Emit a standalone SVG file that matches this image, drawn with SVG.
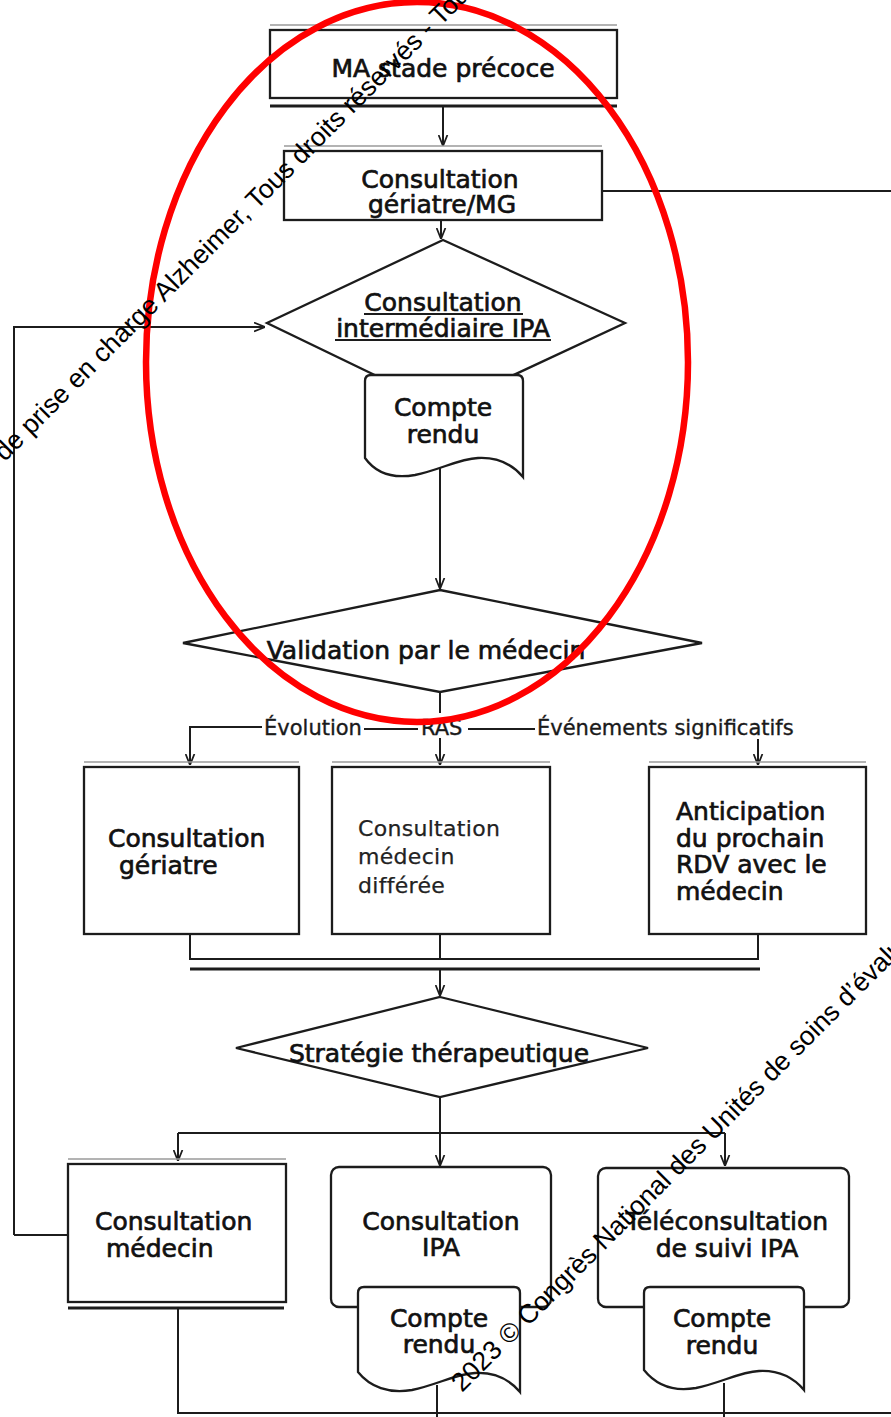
<svg xmlns="http://www.w3.org/2000/svg" width="891" height="1417" viewBox="0 0 891 1417">
<style>
.box{fill:#fff;stroke:#1c1c1c;stroke-width:2.3}
.ln{fill:none;stroke:#1c1c1c;stroke-width:2}
.gr{fill:none;stroke:#9a9a9a;stroke-width:1.5}
.thick{fill:none;stroke:#1c1c1c;stroke-width:3}
.t{font-family:"DejaVu Sans","Liberation Sans",sans-serif;font-size:25px;fill:#111;stroke:#111;stroke-width:0.7;text-anchor:middle}
.s{text-anchor:start}
.lt{font-family:"DejaVu Sans","Liberation Sans",sans-serif;font-size:22px;fill:#222;stroke:#222;stroke-width:0.25;letter-spacing:0.3px}
.lb{font-family:"DejaVu Sans","Liberation Sans",sans-serif;font-size:21px;fill:#1a1a1a;stroke:#1a1a1a;stroke-width:0.35}
.wm{font-family:"Liberation Sans",Arial,sans-serif;font-size:26.5px;fill:#000}
</style>
<defs>
<marker id="arr" viewBox="0 0 10 10" refX="10" refY="5" markerWidth="11" markerHeight="11" markerUnits="userSpaceOnUse" orient="auto">
<path d="M0,1 L10,5 L0,9" fill="none" stroke="#1c1c1c" stroke-width="1.6"/>
</marker>
</defs>
<rect width="891" height="1417" fill="#fff"/>

<g id="connectors">
<path class="ln" d="M443,106 V146" marker-end="url(#arr)"/>
<path class="ln" d="M602,191 H891"/>
<path class="ln" d="M441,220 V239" marker-end="url(#arr)"/>
<path class="ln" d="M14,1235 V327 H265" marker-end="url(#arr)"/>
<path class="ln" d="M14,1235 H68"/>
<path class="ln" d="M440,467 V589" marker-end="url(#arr)"/>
<path class="ln" d="M440,692 V713"/>
<path class="ln" d="M262,727 H190 V765" marker-end="url(#arr)"/>
<path class="ln" d="M364,729 H418"/>
<path class="ln" d="M468,729 H535"/>
<path class="ln" d="M440,738 V765" marker-end="url(#arr)"/>
<path class="ln" d="M758,739 V765" marker-end="url(#arr)"/>
<path class="ln" d="M190,934 V959 H758 V934"/>
<path class="ln" d="M440,934 V959"/>
<path class="thick" d="M190,969 H760"/>
<path class="ln" d="M440,969 V996" marker-end="url(#arr)"/>
<path class="ln" d="M440,1097 V1133"/>
<path class="ln" d="M178,1133 H725"/>
<path class="ln" d="M178,1133 V1161" marker-end="url(#arr)"/>
<path class="ln" d="M440,1133 V1166" marker-end="url(#arr)"/>
<path class="ln" d="M725,1133 V1166" marker-end="url(#arr)"/>
<path class="ln" d="M178,1308 V1413 H891"/>
<path class="ln" d="M437,1385 V1417"/>
<path class="ln" d="M724,1383 V1417"/>
</g>

<g id="n1">
<path class="gr" d="M270,25 H617"/>
<rect class="box" x="270" y="30" width="347" height="68"/>
<path class="thick" d="M270,106 H617"/>
<text class="t" x="443" y="77">MA stade précoce</text>
</g>

<g id="n2">
<path class="gr" d="M284,146 H602"/>
<rect class="box" x="284" y="151" width="318" height="69"/>
<text class="t" x="440" y="188">Consultation</text>
<text class="t" x="442" y="213">gériatre/MG</text>
</g>

<g id="d1">
<polygon class="box" points="443,240 625,323 443,408 267,323"/>
<text class="t" x="443" y="311">Consultation</text>
<text class="t" x="443" y="337">intermédiaire IPA</text>
<path class="ln" d="M364,314 H523 M335,340 H551" stroke-width="1.6"/>
</g>

<g id="doc1">
<path class="box" d="M365,381 Q365,375 371,375 H517 Q523,375 523,381 V477 C512,464 497,457 478,458 C458,459 440,470 415,475 C392,479 375,472 365,458 Z"/>
<text class="t" x="443" y="416">Compte</text>
<text class="t" x="443" y="443">rendu</text>
</g>

<g id="d2">
<polygon class="box" points="440,590 702,643 440,692 183,643"/>
<text class="t" x="426" y="659">Validation par le médecin</text>
</g>

<g id="labels">
<text class="lb" x="264" y="735">Évolution</text>
<text class="lb" x="421" y="735">RAS</text>
<text class="lb" x="537" y="735">Événements significatifs</text>
</g>

<g id="n3">
<path class="gr" d="M84,762 H299"/>
<rect class="box" x="84" y="767" width="215" height="167"/>
<text class="t s" x="108" y="847">Consultation</text>
<text class="t s" x="119" y="874">gériatre</text>
</g>

<g id="n4">
<path class="gr" d="M332,762 H550"/>
<rect class="box" x="332" y="767" width="218" height="167"/>
<text class="lt" x="358" y="836">Consultation</text>
<text class="lt" x="358" y="864">médecin</text>
<text class="lt" x="358" y="893">différée</text>
</g>

<g id="n5">
<path class="gr" d="M649,762 H866"/>
<rect class="box" x="649" y="767" width="217" height="167"/>
<text class="t s" x="676" y="820">Anticipation</text>
<text class="t s" x="676" y="847">du prochain</text>
<text class="t s" x="676" y="873">RDV avec le</text>
<text class="t s" x="676" y="900">médecin</text>
</g>

<g id="d3">
<polygon class="box" points="440,997 648,1048 440,1097 236,1048"/>
<text class="t" x="439" y="1062">Stratégie thérapeutique</text>
</g>

<g id="n6">
<path class="gr" d="M68,1159 H286"/>
<rect class="box" x="68" y="1164" width="218" height="138"/>
<path class="thick" d="M68,1308 H284"/>
<text class="t s" x="95" y="1230">Consultation</text>
<text class="t s" x="106" y="1257">médecin</text>
</g>

<g id="n7">
<rect class="box" x="331" y="1167" width="220" height="140" rx="8"/>
<text class="t" x="441" y="1230">Consultation</text>
<text class="t" x="441" y="1256">IPA</text>
</g>

<g id="doc2">
<path class="box" d="M358,1293 Q358,1287 364,1287 H514 Q520,1287 520,1293 V1392 C509,1379 494,1372 475,1373 C455,1374 437,1385 412,1390 C389,1394 370,1387 358,1372 Z"/>
<text class="t" x="439" y="1327">Compte</text>
<text class="t" x="439" y="1353">rendu</text>
</g>

<g id="n8">
<rect class="box" x="598" y="1168" width="251" height="139" rx="8"/>
<text class="t" x="727" y="1230">Téléconsultation</text>
<text class="t" x="727" y="1257">de suivi IPA</text>
</g>

<g id="doc3">
<path class="box" d="M644,1293 Q644,1287 650,1287 H798 Q804,1287 804,1293 V1390 C793,1377 778,1370 759,1371 C739,1372 721,1383 696,1388 C673,1392 656,1385 644,1370 Z"/>
<text class="t" x="722" y="1327">Compte</text>
<text class="t" x="722" y="1354">rendu</text>
</g>

<ellipse id="highlight" cx="417" cy="362" rx="271" ry="360" fill="none" stroke="#ff0000" stroke-width="6.5"/>

<g id="watermark">
<text class="wm" x="-16" y="483" transform="rotate(-45 -16 483)">et de prise en charge Alzheimer, Tous droits réservés - Tous</text>
<text class="wm" x="462" y="1393" transform="rotate(-45 462 1393)">2023 © Congrès National des Unités de soins d’évaluation</text>
</g>
</svg>
